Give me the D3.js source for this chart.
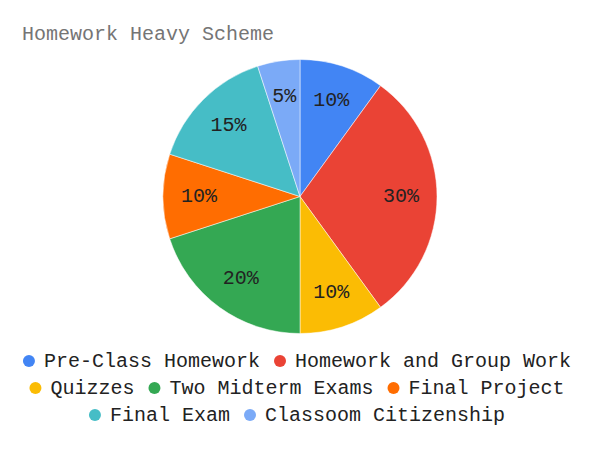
<!DOCTYPE html>
<html>
<head>
<meta charset="utf-8">
<script src="https://cdn.jsdelivr.net/npm/d3@7"></script>
<style>
  html, body { margin: 0; padding: 0; background: #fff; }
  svg { display: block; }
  text { font-family: "Liberation Mono", "Courier New", monospace; }
</style>
</head>
<body>
<svg id="chart" width="600" height="449"></svg>
<script>
const title = "Homework Heavy Scheme";
const categories = ["Pre-Class Homework", "Homework and Group Work", "Quizzes", "Two Midterm Exams", "Final Project", "Final Exam", "Classoom Citizenship"];
const values = [10, 30, 10, 20, 10, 15, 5];
const colors = ["#4285f4", "#ea4335", "#fbbc04", "#34a853", "#ff6d01", "#46bdc6", "#7baaf7"];
const legendRows = [[0, 1], [2, 3, 4], [5, 6]];

const svg = d3.select("#chart");
const cx = 300, cy = 196.5, R = 137, labelR = 101;

svg.append("text")
  .attr("x", 22).attr("y", 40)
  .attr("font-size", 20)
  .attr("fill", "#757575")
  .text(title);

const total = d3.sum(values);
const pie = d3.pie().sort(null).value(d => d)(values);
const arc = d3.arc().innerRadius(0).outerRadius(R);
const labelArc = d3.arc().innerRadius(labelR).outerRadius(labelR);

const g = svg.append("g").attr("transform", `translate(${cx},${cy})`);
g.selectAll("path").data(pie).join("path")
  .attr("d", arc)
  .attr("fill", (d, i) => colors[i])
  .attr("stroke", "#fff")
  .attr("stroke-width", 0.5);

g.selectAll("text.lbl").data(pie).join("text")
  .attr("class", "lbl")
  .attr("transform", d => `translate(${labelArc.centroid(d)})`)
  .attr("text-anchor", "middle")
  .attr("dominant-baseline", "central")
  .attr("font-size", 20)
  .attr("fill", "#222")
  .text(d => d3.format(".0%")(d.value / total));

// legend
const rowY = [361, 388, 415];
const dotR = 6, dotGap = 9, itemGap = 14;
legendRows.forEach((row, ri) => {
  const lg = svg.append("g");
  let x = 0;
  row.forEach(i => {
    const item = lg.append("g").attr("transform", `translate(${x},0)`);
    item.append("circle").attr("cx", dotR).attr("cy", 0).attr("r", dotR).attr("fill", colors[i]);
    const t = item.append("text")
      .attr("x", dotR * 2 + dotGap).attr("y", 0)
      .attr("dominant-baseline", "central")
      .attr("font-size", 20)
      .attr("fill", "#222")
      .text(categories[i]);
    x += dotR * 2 + dotGap + t.node().getComputedTextLength() + itemGap;
  });
  const width = x - itemGap;
  lg.attr("transform", `translate(${297 - width / 2},${rowY[ri]})`);
});
</script>
</body>
</html>
